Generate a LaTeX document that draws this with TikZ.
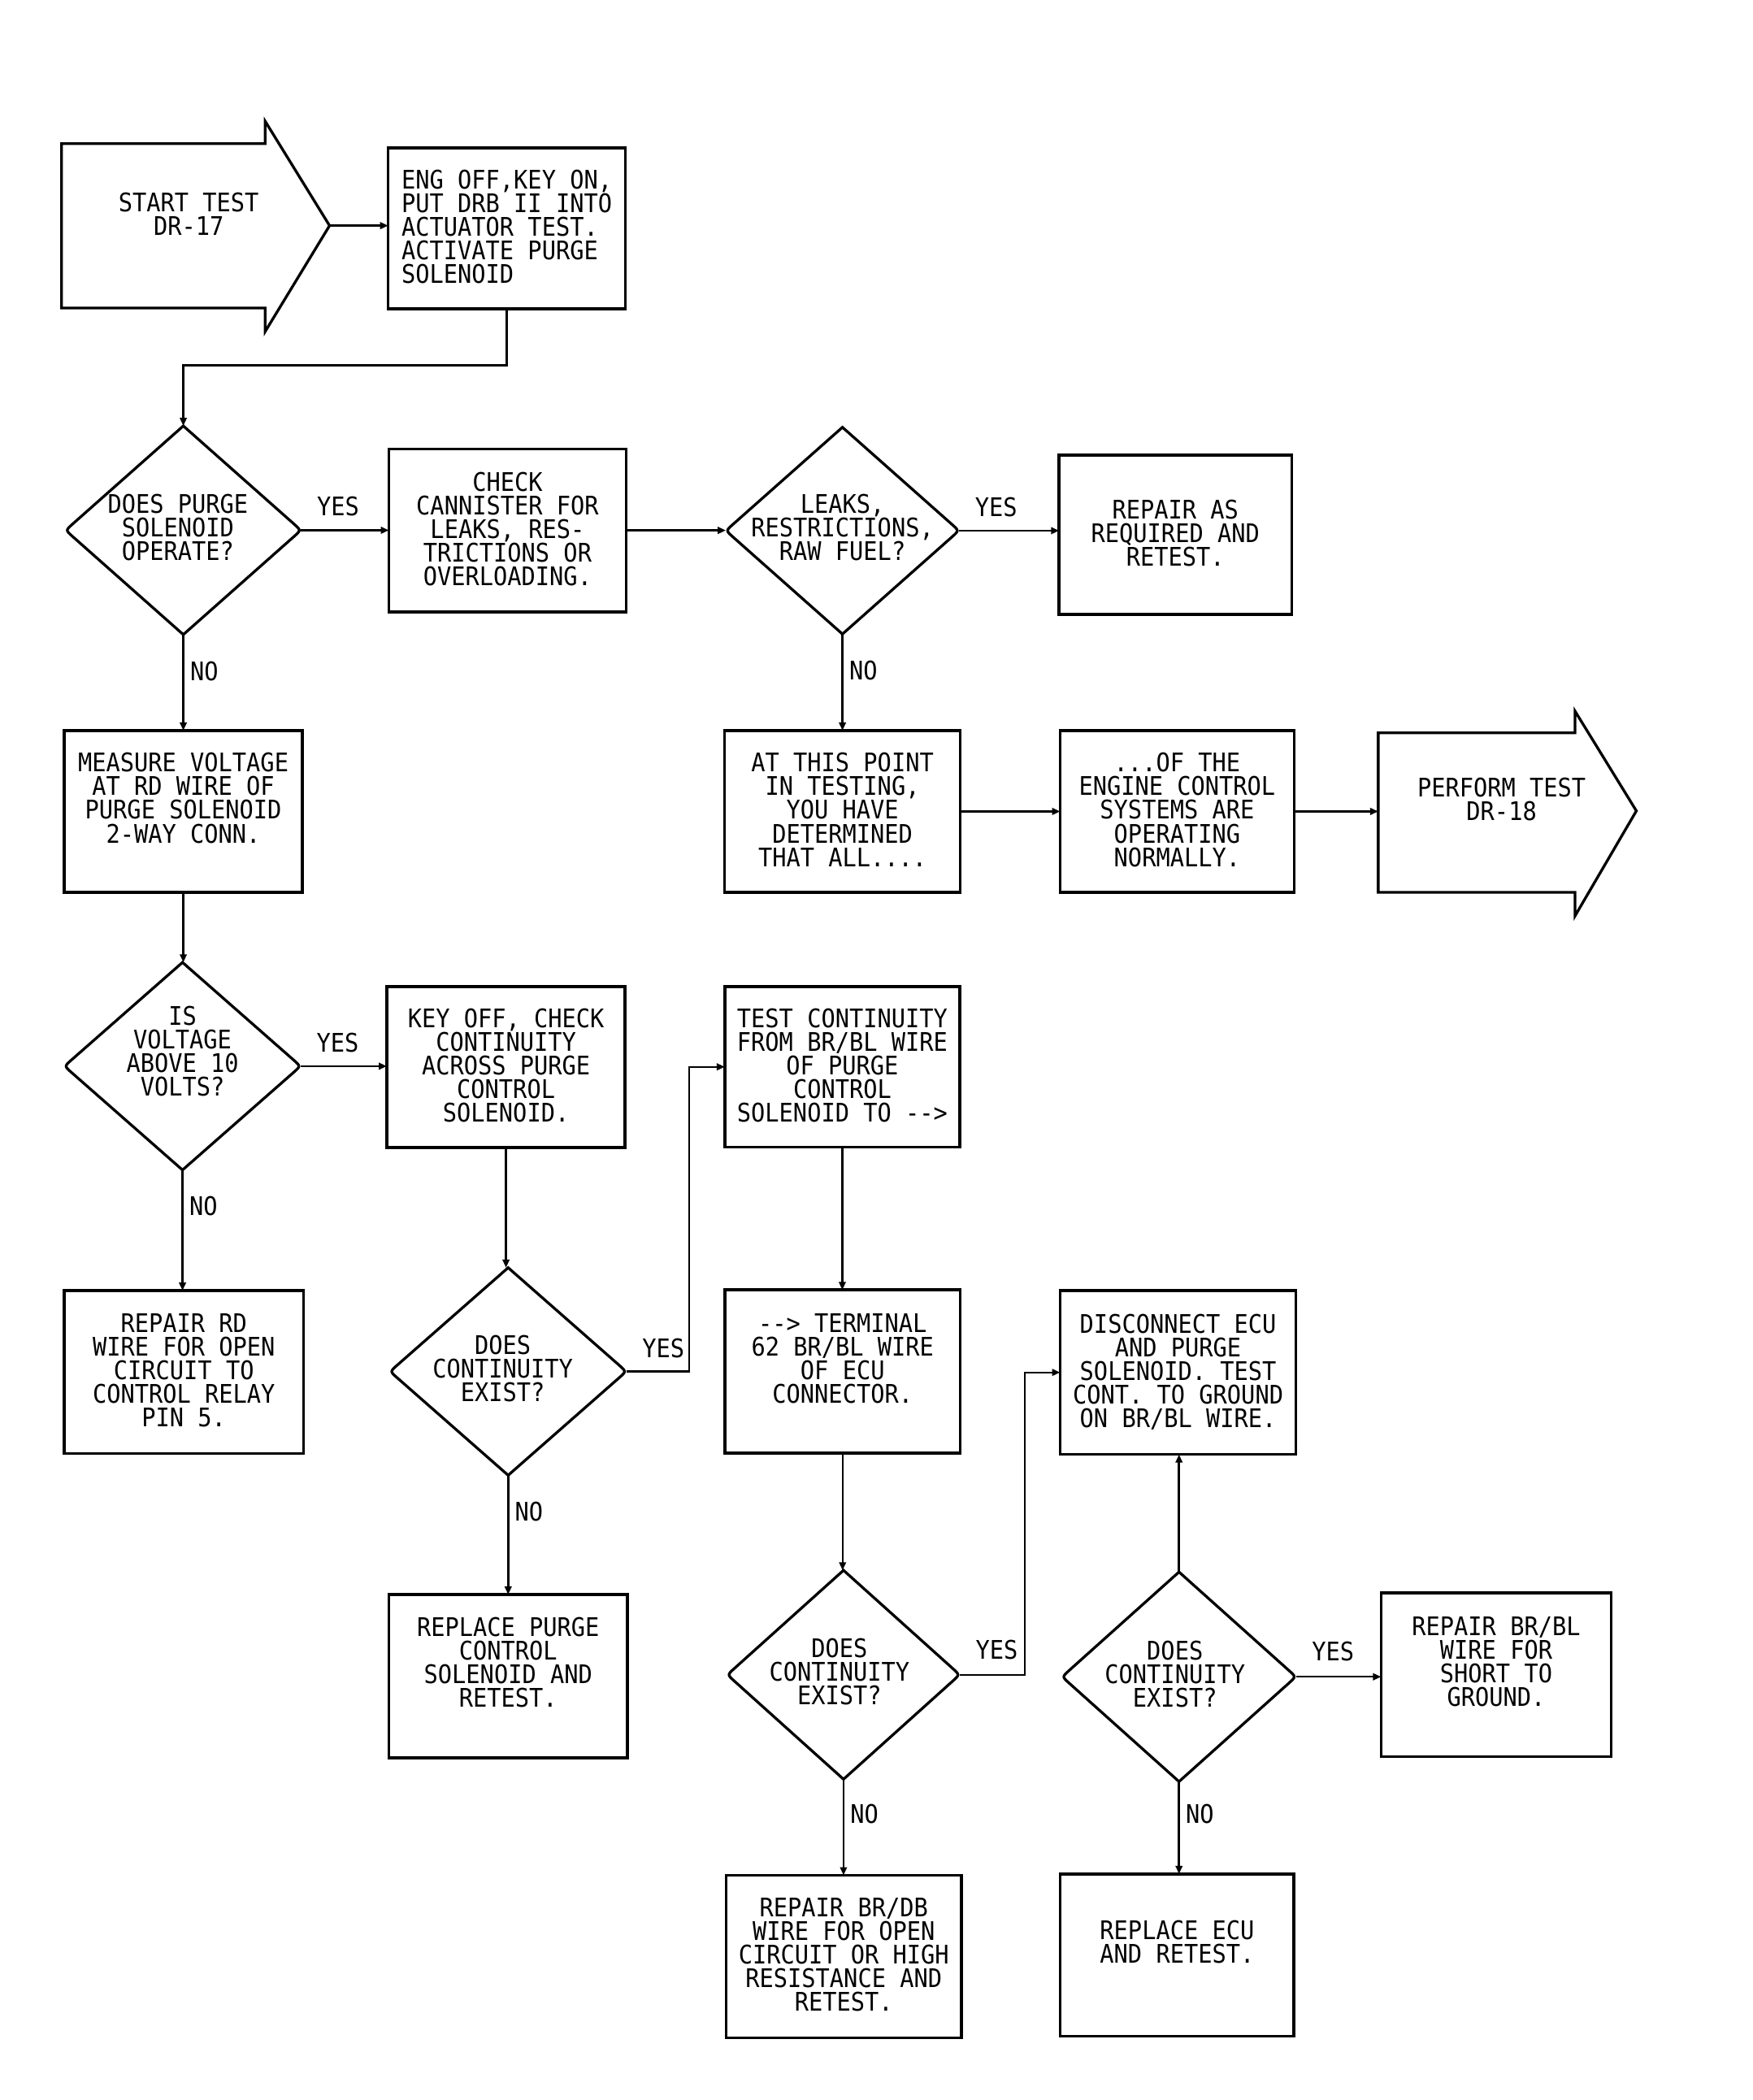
\documentclass[tikz,border=0pt]{standalone}
\usepackage{fontspec}
\newfontfamily\plotfont{DejaVu Sans Mono}[FakeStretch=0.91]
\usetikzlibrary{arrows.meta,calc,shapes.geometric}
\newcommand\mystrut{\rule[-3pt]{0pt}{17.5pt}}
\newcommand\fivelines[5]{\mystrut#1\\\mystrut#2\\\mystrut#3\\\mystrut#4\\\mystrut#5}
\newcommand\threelines[3]{\mystrut#1\\\mystrut#2\\\mystrut#3}
\newcommand\plotsize{\fontsize{19}{17.5}\selectfont}
\tikzset{
  txt/.style={font=\plotfont\plotsize, align=center, inner sep=0pt, outer sep=0pt},
  bx/.style={txt, draw, line width=2.1pt, rectangle},
  dia/.style={shape=diamond, draw=none, inner sep=0pt, outer sep=0pt},
  diatxt/.style={txt, yshift=1pt},
  lab/.style={txt},
  conn/.style={line width=1.5pt, -{Triangle[length=6pt,width=5pt]}},
  shapeline/.style={line width=2pt, line join=miter},
  dialine/.style={line width=2pt}
}
\newcommand\drawdia[1]{%
  \draw[dialine] (#1.north) -- ($(#1.east)!7pt!(#1.north)$) .. controls (#1.east) .. ($(#1.east)!7pt!(#1.south)$)
    -- (#1.south) -- ($(#1.west)!7pt!(#1.south)$) .. controls (#1.west) .. ($(#1.west)!7pt!(#1.north)$) -- cycle;}
\begin{document}
\begin{tikzpicture}[x=1pt,y=-1pt]
\useasboundingbox (0,0) rectangle (1300,1558);
\fill[white] (0,0) rectangle (1300,1558);

% ---- start arrow
\draw[shapeline] (45.7,106.6) -- (196.7,106.6) -- (196.7,89.9) -- (244.5,167.4) -- (196.7,246) -- (196.7,228.5) -- (45.7,228.5) -- cycle;
\coordinate (starttip) at (244.5,167.4);
\node[txt] (start) at (140,160) {\mystrut START TEST\\\mystrut DR-17};

% ---- perform arrow
\draw[shapeline] (1022.5,543.7) -- (1168.5,543.7) -- (1168.5,527.6) -- (1214,601.6) -- (1168.5,679.5) -- (1168.5,662) -- (1022.5,662) -- cycle;
\coordinate (perfin) at (1022.5,602);
\node[txt] (perform) at (1114,594) {\mystrut PERFORM TEST\\\mystrut DR-18};

% ---- boxes
\node[bx, align=left, minimum width=176pt, minimum height=119.4pt] (eng) at (376,169.3)
  {\fivelines{ENG OFF,KEY ON,}{PUT DRB II INTO}{ACTUATOR TEST.}{ACTIVATE PURGE}{SOLENOID}};
\node[bx, minimum width=176pt, minimum height=121pt] (check) at (376.5,393.5)
  {\fivelines{CHECK}{CANNISTER FOR}{LEAKS, RES-}{TRICTIONS OR}{OVERLOADING.}};
\node[bx, minimum width=172.5pt, minimum height=118pt] (repas) at (872,396.7)
  {\fivelines{}{REPAIR AS}{REQUIRED AND}{RETEST.}{}};
\node[bx, minimum width=176.5pt, minimum height=120pt] (measure) at (136,602)
  {\fivelines{MEASURE VOLTAGE}{AT RD WIRE OF}{PURGE SOLENOID}{2-WAY CONN.}{}};
\node[bx, minimum width=175pt, minimum height=120pt] (atpoint) at (625,602)
  {\fivelines{AT THIS POINT}{IN TESTING,}{YOU HAVE}{DETERMINED}{THAT ALL....}};
\node[bx, minimum width=173.5pt, minimum height=120pt] (ofthe) at (873.3,602)
  {\fivelines{...OF THE}{ENGINE CONTROL}{SYSTEMS ARE}{OPERATING}{NORMALLY.}};
\node[bx, minimum width=176.8pt, minimum height=119.3pt] (keyoff) at (375.4,791.7)
  {\fivelines{KEY OFF, CHECK}{CONTINUITY}{ACROSS PURGE}{CONTROL}{SOLENOID.}};
\node[bx, minimum width=174.3pt, minimum height=119pt] (testc) at (624.9,791.5)
  {\fivelines{TEST CONTINUITY}{FROM BR/BL WIRE}{OF PURGE}{CONTROL}{SOLENOID TO -->}};
\node[bx, minimum width=177.3pt, minimum height=120.8pt] (reprd) at (136.4,1017.9)
  {\fivelines{REPAIR RD}{WIRE FOR OPEN}{CIRCUIT TO}{CONTROL RELAY}{PIN 5.}};
\node[bx, minimum width=174.8pt, minimum height=121pt] (term) at (625.1,1017.5)
  {\fivelines{--> TERMINAL}{62 BR/BL WIRE}{OF ECU}{CONNECTOR.}{}};
\node[bx, minimum width=175pt, minimum height=121.7pt] (disc) at (874,1018.2)
  {\fivelines{DISCONNECT ECU}{AND PURGE}{SOLENOID. TEST}{CONT. TO GROUND}{ON BR/BL WIRE.}};
\node[bx, minimum width=176.7pt, minimum height=121pt] (reppurge) at (377,1243.5)
  {\fivelines{REPLACE PURGE}{CONTROL}{SOLENOID AND}{RETEST.}{}};
\node[bx, minimum width=170.7pt, minimum height=121.5pt] (repbrbl) at (1110,1242.5)
  {\fivelines{REPAIR BR/BL}{WIRE FOR}{SHORT TO}{GROUND.}{}};
\node[bx, minimum width=174.4pt, minimum height=120.5pt] (repbrdb) at (626,1451.5)
  {\fivelines{REPAIR BR/DB}{WIRE FOR OPEN}{CIRCUIT OR HIGH}{RESISTANCE AND}{RETEST.}};
\node[bx, minimum width=173.4pt, minimum height=120.5pt] (repecu) at (873.3,1450.5)
  {\fivelines{}{REPLACE ECU}{AND RETEST.}{}{}};

% ---- diamonds
\node[dia, minimum width=174.7pt, minimum height=154.8pt] (d1) at (136,393.4) {};
\node[dia, minimum width=173pt, minimum height=153.4pt] (d2) at (625,393.7) {};
\node[dia, minimum width=175.3pt, minimum height=154pt] (d3) at (135.4,791) {};
\node[dia, minimum width=175.3pt, minimum height=154pt] (d4) at (377,1017.5) {};
\node[dia, minimum width=172.4pt, minimum height=155pt] (d5) at (625.8,1242.5) {};
\node[dia, minimum width=173.5pt, minimum height=155.5pt] (d6) at (874.7,1244) {};
\drawdia{d1}\drawdia{d2}\drawdia{d3}\drawdia{d4}\drawdia{d5}\drawdia{d6}
\node[diatxt] (d1t) at ($(d1)+(-4,0)$) {\threelines{DOES PURGE}{SOLENOID}{OPERATE?}};
\node[diatxt] (d2t) at (d2) {\threelines{LEAKS,}{RESTRICTIONS,}{RAW FUEL?}};
\node[diatxt] (d3t) at (d3) {\fivelines{IS}{VOLTAGE}{ABOVE 10}{VOLTS?}{}};
\node[diatxt] (d4t) at ($(d4)+(-4,0)$) {\threelines{DOES}{CONTINUITY}{EXIST?}};
\node[diatxt] (d5t) at ($(d5)+(-3,0)$) {\threelines{DOES}{CONTINUITY}{EXIST?}};
\node[diatxt] (d6t) at ($(d6)+(-3,0)$) {\threelines{DOES}{CONTINUITY}{EXIST?}};

% ---- labels
\node[lab] (y1) at ($(d1.east)+(27.5,-17.5)$) {YES};
\node[lab] (y2) at ($(d2.east)+(27.5,-17.5)$) {YES};
\node[lab] (y3) at ($(d3.east)+(27.5,-17.5)$) {YES};
\node[lab] (y4) at ($(d4.east)+(27.5,-17.5)$) {YES};
\node[lab] (y5) at ($(d5.east)+(27.5,-18.5)$) {YES};
\node[lab] (y6) at ($(d6.east)+(27.5,-19)$) {YES};
\node[lab] (n1) at ($(d1.south)+(15.5,27)$) {NO};
\node[lab] (n2) at ($(d2.south)+(15.5,27)$) {NO};
\node[lab] (n3) at ($(d3.south)+(15.5,27)$) {NO};
\node[lab] (n4) at ($(d4.south)+(15.5,27)$) {NO};
\node[lab] (n5) at ($(d5.south)+(15.5,26)$) {NO};
\node[lab] (n6) at ($(d6.south)+(15.5,24)$) {NO};

% ---- connectors
\draw[conn] (starttip) -- (starttip -| eng.west);
\draw[conn] (eng.south) -- ++(0,42) -| (d1.north);
\draw[conn] (d1.east) -- (d1.east -| check.west);
\draw[conn] (check.east) -- (check.east -| d2.west);
\draw[conn] (d2.east) -- (d2.east -| repas.west);
\draw[conn] (d1.south) -- (d1.south |- measure.north);
\draw[conn] (d2.south) -- (d2.south |- atpoint.north);
\draw[conn] (atpoint.east) -- (atpoint.east -| ofthe.west);
\draw[conn] (ofthe.east) -- (ofthe.east -| perfin);
\draw[conn] (measure.south) -- (measure.south |- d3.north);
\draw[conn] (d3.east) -- (d3.east -| keyoff.west);
\draw[conn] (d3.south) -- (d3.south |- reprd.north);
\draw[conn] (keyoff.south) -- (keyoff.south |- d4.north);
\draw[conn] (d4.east) -- ++(46.6,0) |- (testc.west);
\draw[conn] (d4.south) -- (d4.south |- reppurge.north);
\draw[conn] (testc.south) -- (testc.south |- term.north);
\draw[conn] (term.south) -- (term.south |- d5.north);
\draw[conn] (d5.east) -- ++(48.3,0) |- (disc.west);
\draw[conn] (d5.south) -- (d5.south |- repbrdb.north);
\draw[conn] (d6.north) -- (d6.north |- disc.south);
\draw[conn] (d6.east) -- (d6.east -| repbrbl.west);
\draw[conn] (d6.south) -- (d6.south |- repecu.north);
\end{tikzpicture}
\end{document}
